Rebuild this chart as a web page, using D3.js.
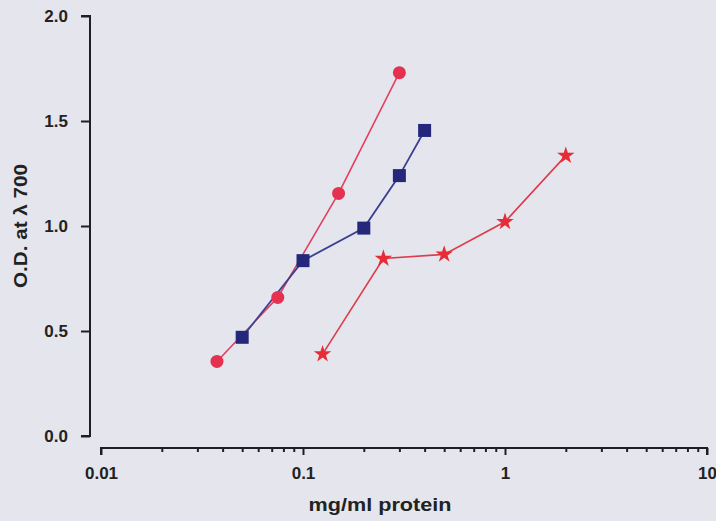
<!DOCTYPE html>
<html lang="en">
<head>
<meta charset="utf-8">
<title>O.D. vs protein</title>
<script src="https://cdn.jsdelivr.net/npm/d3@7"></script>
<style>
  body { margin: 0; background: #e5e5ed; }
  svg { display: block; font-family: "Liberation Sans", Arial, sans-serif; font-weight: bold; }
</style>
</head>
<body>
<svg id="chart" width="716" height="521"></svg>
<script>
// series: x = mg/ml protein, y = O.D.
var circleX = [0.0375, 0.075, 0.15, 0.3];
var circleY = [0.355, 0.66, 1.155, 1.73];
var squareX = [0.05, 0.1, 0.2, 0.3, 0.4];
var squareY = [0.47, 0.835, 0.99, 1.24, 1.455];
var starX = [0.125, 0.25, 0.5, 1, 2];
var starY = [0.39, 0.845, 0.865, 1.02, 1.335];

var yTicks = [0, 0.5, 1.0, 1.5, 2.0];
var xTicks = [0.01, 0.1, 1, 10];

var svg = d3.select("#chart");

var x = d3.scaleLog().domain([0.01, 10]).range([101, 707]);
var y = d3.scaleLinear().domain([0, 2]).range([436, 16]);

// y axis
var yAxis = d3.axisLeft(y)
  .tickValues(yTicks)
  .tickFormat(d3.format(".1f"))
  .tickSize(9)
  .tickPadding(13);

var gy = svg.append("g")
  .attr("transform", "translate(90,0)")
  .call(yAxis);
gy.select(".domain").attr("d", "M-9,16H0V436H-9");

// x axis, log with minor ticks
var minor = [];
[0.01, 0.1, 1].forEach(function (b) {
  for (var k = 2; k <= 9; k++) minor.push(b * k);
});

var gxMinor = svg.append("g")
  .attr("transform", "translate(0,448)")
  .call(d3.axisBottom(x).tickValues(minor).tickSize(4).tickFormat(""));
gxMinor.select(".domain").remove();

var gx = svg.append("g")
  .attr("transform", "translate(0,448)")
  .call(d3.axisBottom(x)
    .tickValues(xTicks)
    .tickSize(7)
    .tickPadding(12)
    .tickFormat(function (d) { return String(d); }));
gx.select(".domain").attr("d", "M101,7V0H707V7");

svg.selectAll(".domain, .tick line")
  .attr("stroke", "#1e1e24")
  .attr("stroke-width", 2);
svg.selectAll(".tick text")
  .attr("fill", "#222")
  .attr("font-size", 17)
  .attr("font-weight", "bold");

// axis titles (the scan looks a bit stretched sideways)
svg.append("text")
  .attr("transform", "translate(380,511) scale(1.2,1)")
  .attr("text-anchor", "middle")
  .attr("font-size", 18)
  .attr("fill", "#222")
  .text("mg/ml protein");

svg.append("text")
  .attr("transform", "translate(27,226) rotate(-90) scale(1.15,1)")
  .attr("text-anchor", "middle")
  .attr("font-size", 18)
  .attr("fill", "#222")
  .text("O.D. at \u03bb 700");

function pts(xs, ys) {
  return xs.map(function (d, i) { return [d, ys[i]]; });
}

var line = d3.line()
  .x(function (d) { return x(d[0]); })
  .y(function (d) { return y(d[1]); });

var circles = pts(circleX, circleY);
var squares = pts(squareX, squareY);
var stars = pts(starX, starY);

svg.append("path").datum(circles)
  .attr("d", line).attr("fill", "none")
  .attr("stroke", "#e2405f").attr("stroke-width", 1.6);
svg.append("path").datum(squares)
  .attr("d", line).attr("fill", "none")
  .attr("stroke", "#3b3f92").attr("stroke-width", 1.8);
svg.append("path").datum(stars)
  .attr("d", line).attr("fill", "none")
  .attr("stroke", "#dc3c4c").attr("stroke-width", 1.6);

svg.selectAll(".circ").data(circles).enter().append("circle")
  .attr("cx", function (d) { return x(d[0]); })
  .attr("cy", function (d) { return y(d[1]); })
  .attr("r", 6.5)
  .attr("fill", "#e5304f");

svg.selectAll(".sq").data(squares).enter().append("rect")
  .attr("x", function (d) { return x(d[0]) - 6.5; })
  .attr("y", function (d) { return y(d[1]) - 6.5; })
  .attr("width", 13)
  .attr("height", 13)
  .attr("fill", "#25287a");

var star = d3.symbol().type(d3.symbolStar).size(95);
svg.selectAll(".st").data(stars).enter().append("path")
  .attr("transform", function (d) { return "translate(" + x(d[0]) + "," + y(d[1]) + ")"; })
  .attr("d", star)
  .attr("fill", "#e62c36");
</script>
</body>
</html>
